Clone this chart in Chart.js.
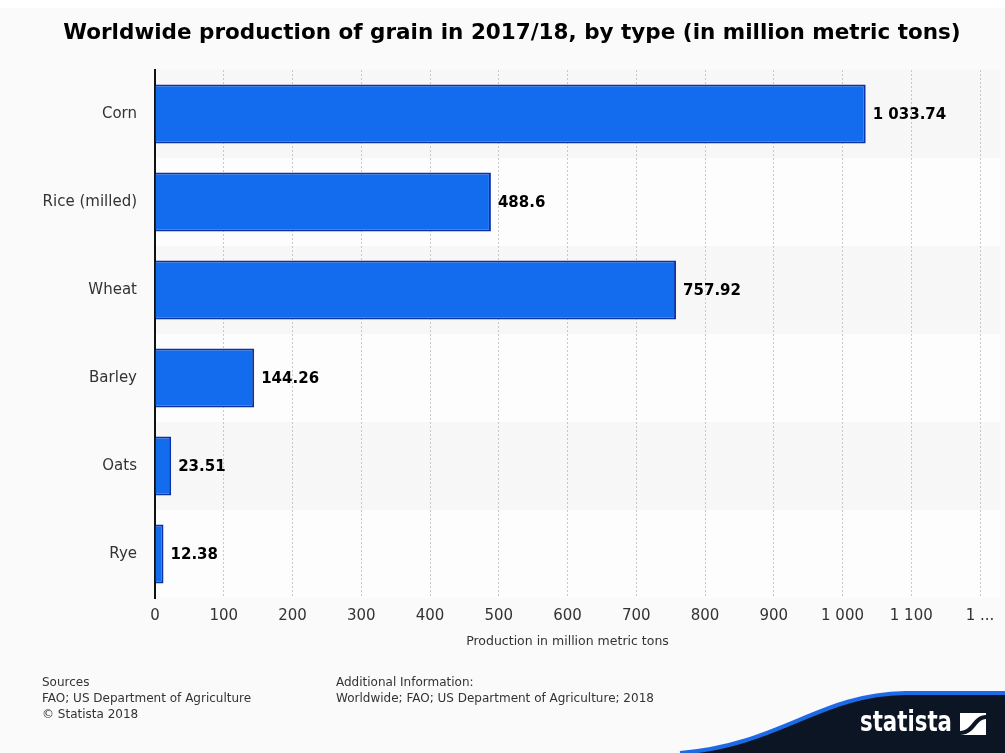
<!DOCTYPE html>
<html>
<head>
<meta charset="utf-8">
<script src="https://cdn.jsdelivr.net/npm/chart.js@4"></script>
<style>
    html, body { margin: 0; padding: 0; background: #ffffff; }
    #wrap { position: relative; width: 1005px; height: 753px; }
    #grainChart { position: absolute; left: 0; top: 0; }
    .note { position: absolute; font-family: 'DejaVu Sans', sans-serif; font-size: 12px; line-height: 16px; color: #333; }
    #title { position: absolute; left: 0; top: 19px; width: 1024px; text-align: center; font-family: 'DejaVu Sans', sans-serif; font-weight: bold; font-size: 21.5px; line-height: 26px; color: #000; }
</style>
</head>
<body>
<div id="wrap">
    <canvas id="grainChart" width="1005" height="753"></canvas>
    <div id="title">Worldwide production of grain in 2017/18, by type (in million metric tons)</div>
    <div class="note" style="left:42px; top:674px;">Sources<br>FAO; US Department of Agriculture<br>© Statista 2018</div>
    <div class="note" style="left:336px; top:674px;">Additional Information:<br>Worldwide; FAO; US Department of Agriculture; 2018</div>
</div>
<script>
var grainTypes = ['Corn', 'Rice (milled)', 'Wheat', 'Barley', 'Oats', 'Rye'];
var production = [1033.74, 488.6, 757.92, 144.26, 23.51, 12.38];
var tickLabels = ['0', '100', '200', '300', '400', '500', '600', '700', '800', '900', '1 000', '1 100', '1 ...'];

var fontFamily = "'DejaVu Sans', sans-serif";

function formatValue(v) {
    var parts = String(v).split('.');
    parts[0] = parts[0].replace(/\B(?=(\d{3})+(?!\d))/g, ' ');
    return parts.join('.');
}

// page background and alternating row bands behind the bars
var bandsPlugin = {
    id: 'bands',
    beforeDraw: function (chart) {
        var ctx = chart.ctx;
        var area = chart.chartArea;
        var y = chart.scales.y;
        ctx.save();
        ctx.fillStyle = '#fafafa';
        ctx.fillRect(0, 8, chart.width, chart.height - 8);
        grainTypes.forEach(function (name, i) {
            var top = y.getPixelForValue(i) - 44;
            ctx.fillStyle = i % 2 === 0 ? '#f7f7f7' : '#fdfdfd';
            ctx.fillRect(area.left, top, chart.width - area.left - 5, 88);
        });
        ctx.restore();
    }
};

// value labels at the end of each bar
var valueLabelsPlugin = {
    id: 'valueLabels',
    afterDatasetsDraw: function (chart) {
        var ctx = chart.ctx;
        var meta = chart.getDatasetMeta(0);
        ctx.save();
        ctx.font = 'bold 15px ' + fontFamily;
        ctx.fillStyle = '#000';
        ctx.textAlign = 'left';
        ctx.textBaseline = 'middle';
        meta.data.forEach(function (bar, i) {
            ctx.fillText(formatValue(production[i]), bar.x + 7, bar.y + 1);
        });
        ctx.restore();
    }
};

// brand corner in the lower right
var brandPlugin = {
    id: 'brand',
    afterDraw: function (chart) {
        var ctx = chart.ctx;
        var w = chart.width, h = chart.height;
        function wave() {
            ctx.moveTo(680, h);
            ctx.bezierCurveTo(780, h - 8, 820, 694, 905, 693);
            ctx.lineTo(w, 693);
        }
        ctx.save();
        ctx.beginPath();
        wave();
        ctx.lineTo(w, h);
        ctx.closePath();
        ctx.fillStyle = '#0b1524';
        ctx.fill();
        ctx.beginPath();
        wave();
        ctx.strokeStyle = '#1d6ae6';
        ctx.lineWidth = 4;
        ctx.stroke();
        ctx.fillStyle = '#ffffff';
        ctx.font = 'bold 28px ' + fontFamily;
        ctx.textBaseline = 'middle';
        ctx.textAlign = 'left';
        ctx.fillText('statista', 860, 724, 92);
        // square mark
        ctx.fillRect(960, 713, 26, 22);
        ctx.fillStyle = '#0b1524';
        ctx.beginPath();
        ctx.moveTo(960, 731);
        ctx.bezierCurveTo(972, 731, 973, 715, 986, 715);
        ctx.lineTo(986, 719);
        ctx.bezierCurveTo(976, 719, 975, 735, 960, 735);
        ctx.closePath();
        ctx.fill();
        ctx.restore();
    }
};

new Chart(document.getElementById('grainChart'), {
    type: 'bar',
    data: {
        labels: grainTypes,
        datasets: [{
            data: production,
            backgroundColor: '#136cee',
            borderColor: '#0a33a8',
            borderWidth: 2,
            categoryPercentage: 1,
            barPercentage: 0.67
        }]
    },
    options: {
        indexAxis: 'y',
        responsive: false,
        animation: false,
        layout: { padding: { left: 0, right: 25, top: 70, bottom: 104 } },
        plugins: {
            legend: { display: false },
            tooltip: { enabled: false },
            title: { display: false }
        },
        scales: {
            x: {
                min: 0,
                max: 1200,
                ticks: {
                    stepSize: 100,
                    color: '#333',
                    padding: 9,
                    maxRotation: 0,
                    autoSkip: false,
                    font: { family: fontFamily, size: 15 },
                    callback: function (value, index) { return tickLabels[index]; }
                },
                grid: {
                    color: '#c8c8c8',
                    drawTicks: false
                },
                border: { display: false, dash: [2, 2] },
                title: {
                    display: true,
                    text: 'Production in million metric tons',
                    color: '#333',
                    font: { family: fontFamily, size: 12.5 },
                    padding: { top: 2, bottom: 0 }
                },
                afterFit: function (scale) { scale.height = 51; }
            },
            y: {
                ticks: {
                    color: '#333',
                    padding: 10,
                    font: { family: fontFamily, size: 15 }
                },
                grid: { display: false },
                border: { display: true, color: '#111', width: 2 },
                afterFit: function (scale) { scale.width = 155; }
            }
        }
    },
    plugins: [bandsPlugin, valueLabelsPlugin, brandPlugin]
});
</script>
</body>
</html>
